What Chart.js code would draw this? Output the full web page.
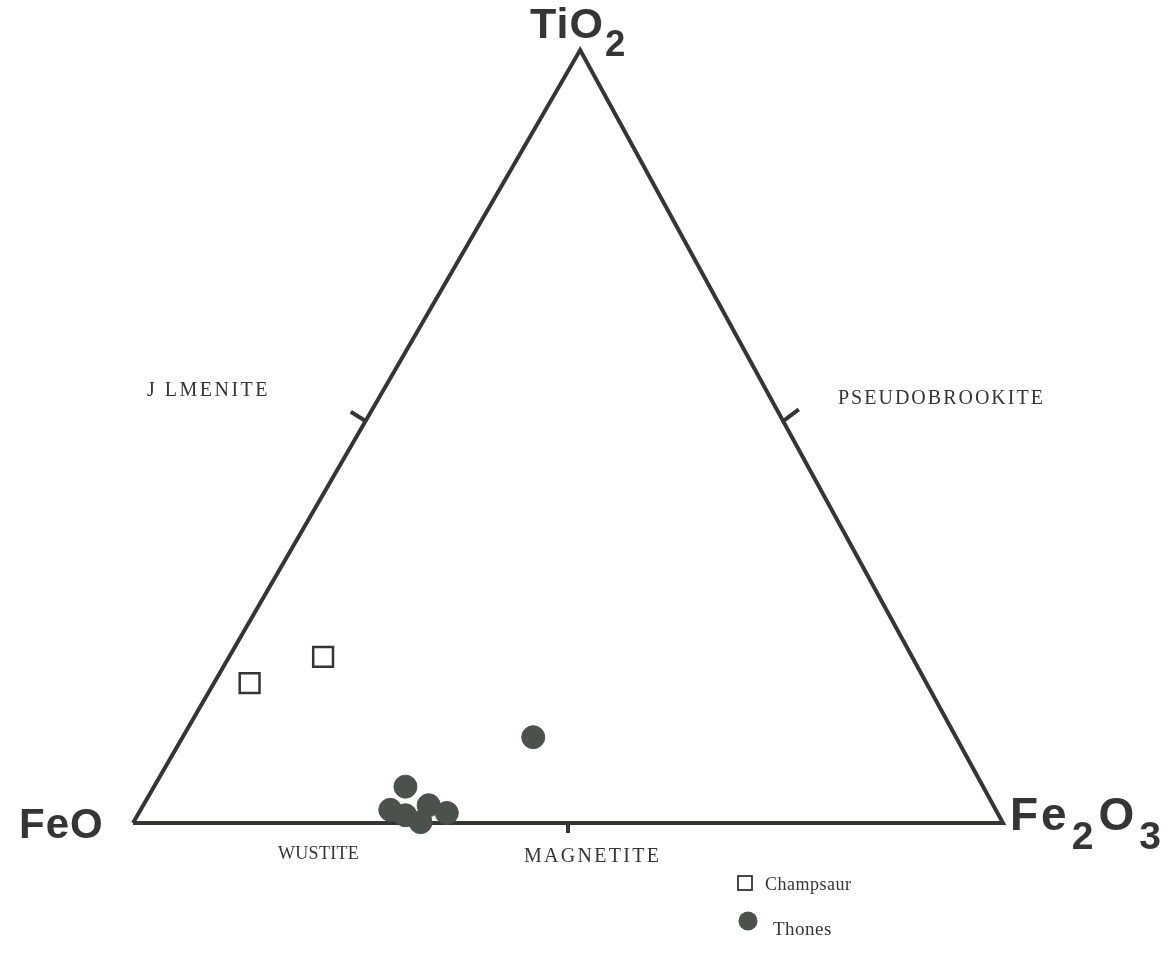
<!DOCTYPE html>
<html>
<head>
<meta charset="utf-8">
<script src="https://cdn.jsdelivr.net/npm/chart.js@4/dist/chart.umd.min.js"></script>
<style>
  html, body { margin: 0; padding: 0; background: #fff; }
  #wrap { position: relative; width: 1170px; height: 976px; }
</style>
</head>
<body>
<div id="wrap"><canvas id="tern" width="1170" height="976"></canvas></div>
<script>
// compositions in fraction of TiO2 / Fe2O3 (FeO is the rest)
const champsaurTiO2  = [0.215, 0.181];
const champsaurFe2O3 = [0.108, 0.041];

const thonesTiO2  = [0.111, 0.047, 0.017, 0.023, 0.013, 0.001, 0.010];
const thonesFe2O3 = [0.403, 0.289, 0.287, 0.328, 0.354, 0.330, 0.308];

const fields = ['J LMENITE', 'PSEUDOBROOKITE', 'WUSTITE', 'MAGNETITE'];
const seriesNames = ['Champsaur', 'Thones'];

const INK = '#333633';
const DOT = '#4b514b';
// the printed triangle leans a little: apex sits right of the base middle
const SKEW = 0.514;

// ternary -> cartesian (FeO left, Fe2O3 right, TiO2 top)
function tern(ti, fe3) {
  return { x: fe3 + ti * SKEW, y: ti };
}
function toPts(ti, fe3) {
  return ti.map((t, i) => tern(t, fe3[i]));
}

// the triangle frame and the mid-side ticks
const frame = [tern(0, 0), tern(0, 1), tern(1, 0), tern(0, 0)];
const tL = tern(0.52, 0), tR = tern(0.52, 0.48);
const tickLeft  = [tL, { x: tL.x - 0.017, y: 0.532 }];
const tickRight = [tR, { x: tR.x + 0.018, y: 0.535 }];
const tickBase  = [tern(0, 0.5), { x: 0.5, y: -0.013 }];

const lineDs = (data, w) => ({
  type: 'line', data, borderColor: INK, borderWidth: w, pointRadius: 0,
  fill: false, clip: false, tension: 0, order: 5
});

const labelsPlugin = {
  id: 'ternLabels',
  afterDraw(chart) {
    const ctx = chart.ctx;
    ctx.save();
    ctx.fillStyle = INK;
    ctx.textBaseline = 'alphabetic';

    // corner labels, sans bold with subscripts
    function chem(parts, x, y, size, gap) {
      let cx = x;
      for (const [txt, sub] of parts) {
        ctx.font = 'bold ' + (sub ? size * 0.85 : size) + 'px "Liberation Sans", Arial, sans-serif';
        ctx.fillText(txt, cx, sub ? y + size * 0.42 : y);
        cx += ctx.measureText(txt).width + gap;
      }
    }
    ctx.letterSpacing = '1px';
    chem([['TiO', false], ['2', true]], 530, 38, 43, 1);
    chem([['FeO', false]], 19, 838, 42, 0);
    ctx.letterSpacing = '3px';
    chem([['Fe', false], ['2', true], ['O', false], ['3', true]], 1010, 830, 46, 2);

    // mineral fields, old serif, widely spaced
    ctx.font = '20px "Liberation Serif", "DejaVu Serif", serif';
    ctx.letterSpacing = '2.5px';
    ctx.fillText(fields[0], 147, 396);
    ctx.letterSpacing = '2px';
    ctx.fillText(fields[1], 838, 404);
    ctx.font = '18px "Liberation Serif", "DejaVu Serif", serif';
    ctx.letterSpacing = '0.3px';
    ctx.fillText(fields[2], 278, 859);
    ctx.font = '20px "Liberation Serif", "DejaVu Serif", serif';
    ctx.letterSpacing = '2.3px';
    ctx.fillText(fields[3], 524, 862);

    // legend
    ctx.letterSpacing = '0.5px';
    ctx.font = '18px "Liberation Serif", "DejaVu Serif", serif';
    ctx.strokeStyle = INK;
    ctx.lineWidth = 1.8;
    ctx.strokeRect(738, 876, 14, 14);
    ctx.fillText(seriesNames[0], 765, 890);
    ctx.beginPath();
    ctx.arc(748, 921, 9.5, 0, Math.PI * 2);
    ctx.fillStyle = DOT;
    ctx.fill();
    ctx.fillStyle = INK;
    ctx.font = '19px "Liberation Serif", "DejaVu Serif", serif';
    ctx.fillText(seriesNames[1], 773, 935);
    ctx.restore();
  }
};

new Chart(document.getElementById('tern'), {
  type: 'scatter',
  data: {
    datasets: [
      lineDs(frame, 4),
      lineDs(tickLeft, 4),
      lineDs(tickRight, 4),
      lineDs(tickBase, 4),
      {
        label: seriesNames[0],
        data: toPts(champsaurTiO2, champsaurFe2O3),
        pointStyle: 'rect', pointRadius: 14, pointHoverRadius: 14,
        backgroundColor: '#fff', borderColor: INK, borderWidth: 2.5,
        clip: false, order: 1
      },
      {
        label: seriesNames[1],
        data: toPts(thonesTiO2, thonesFe2O3),
        pointStyle: 'circle', pointRadius: 11.5, pointHoverRadius: 11.5,
        backgroundColor: DOT, borderColor: DOT, borderWidth: 1,
        clip: false, order: 0
      }
    ]
  },
  options: {
    responsive: false,
    animation: false,
    devicePixelRatio: 1,
    layout: { padding: { left: 133, right: 167, top: 50, bottom: 153 } },
    scales: {
      x: { type: 'linear', min: 0, max: 1, display: false },
      y: { type: 'linear', min: 0, max: 1, display: false }
    },
    plugins: { legend: { display: false }, tooltip: { enabled: false } }
  },
  plugins: [labelsPlugin]
});
</script>
</body>
</html>
